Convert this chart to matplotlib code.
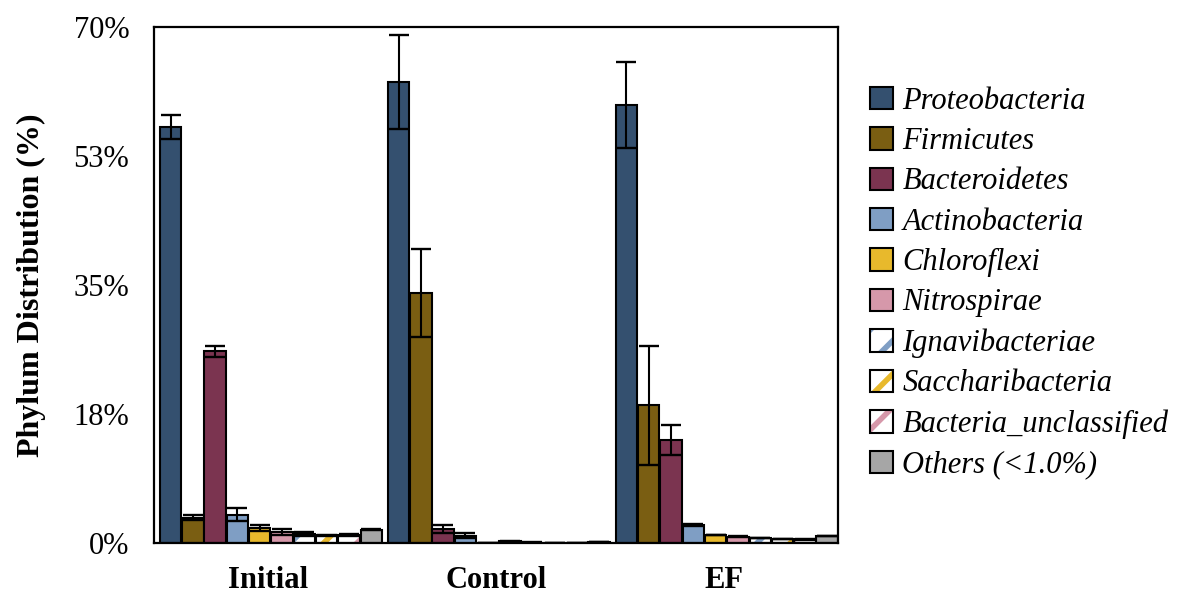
import matplotlib
matplotlib.use("Agg")
import matplotlib.pyplot as plt
import numpy as np

plt.rcParams['font.family'] = ['Liberation Serif', 'DejaVu Serif']
plt.rcParams['hatch.linewidth'] = 4

groups = ['Initial', 'Control', 'EF']
phyla = ['Proteobacteria', 'Firmicutes', 'Bacteroidetes', 'Actinobacteria', 'Chloroflexi',
         'Nitrospirae', 'Ignavibacteriae', 'Saccharibacteria', 'Bacteria_unclassified',
         'Others (<1.0%)']
colors = ['#34506F', '#7A5E12', '#7B3450', '#7F9EC4', '#E8B92C',
          '#D698AA', '#7F9EC4', '#E8B92C', '#D698AA', '#A6A6A6']
hatched = [False, False, False, False, False, False, True, True, True, False]

# values (%) per phylum: [Initial, Control, EF]
means = [
    [56.4, 62.5, 59.4],
    [3.5, 33.9, 18.7],
    [26.0, 1.9, 14.0],
    [3.9, 1.05, 2.5],
    [2.1, 0.05, 1.15],
    [1.55, 0.3, 0.9],
    [1.3, 0.1, 0.75],
    [1.1, 0.1, 0.6],
    [1.1, 0.1, 0.55],
    [1.85, 0.15, 1.0],
]
errors = [
    [1.6, 6.4, 5.8],
    [0.3, 6.0, 8.1],
    [0.8, 0.55, 2.0],
    [0.9, 0.3, 0.1],
    [0.35, 0.02, 0.05],
    [0.35, 0.1, 0.05],
    [0.3, 0.05, 0.05],
    [0.1, 0.02, 0.05],
    [0.15, 0.02, 0.05],
    [0.05, 0.02, 0.05],
]
yticks = [0, 17.5, 35, 52.5, 70]
ytick_labels = ['0%', '18%', '35%', '53%', '70%']

fig = plt.figure(figsize=(11.77, 5.92), dpi=100)
ax = fig.add_axes([0.131, 0.082, 0.581, 0.873])

x = np.arange(len(groups))
pitch = 0.0978
width = 0.094
handles = []
for i, name in enumerate(phyla):
    pos = x + 0.012 + (i - 4.5) * pitch
    if hatched[i]:
        h1 = ax.bar(pos, means[i], width, color='white', edgecolor=colors[i],
                    hatch='/', linewidth=0, zorder=2)
        h2 = ax.bar(pos, means[i], width, fill=False, edgecolor='black',
                    linewidth=1.5, zorder=3)
        handles.append((h1[0], h2[0]))
    else:
        h = ax.bar(pos, means[i], width, color=colors[i], edgecolor='black',
                   linewidth=1.5, zorder=2)
        handles.append(h[0])
    ax.errorbar(pos, means[i], yerr=errors[i], fmt='none', ecolor='black',
                elinewidth=1.5, capsize=7, capthick=1.7, zorder=4)

ax.set_xlim(-0.5, 2.5)
ax.set_ylim(0, 70)
ax.set_xticks(x)
ax.set_xticklabels(groups, fontsize=22, fontweight='bold')
ax.set_yticks(yticks)
ax.set_yticklabels(ytick_labels, fontsize=22)
ax.tick_params(axis='y', length=0, pad=18)
ax.tick_params(axis='x', length=0, pad=16)
for s in ax.spines.values():
    s.set_linewidth(1.6)
ax.set_ylabel('Phylum Distribution (%)', fontsize=23, fontweight='bold', labelpad=20)

leg = fig.legend(handles, phyla, loc='upper left', bbox_to_anchor=(0.729, 0.874),
                 frameon=False, prop={'style': 'italic', 'size': 22},
                 handlelength=0.75, handleheight=0.75, handletextpad=0.3,
                 labelspacing=0.37, borderaxespad=0)

fig.savefig('out.png', dpi=100)
